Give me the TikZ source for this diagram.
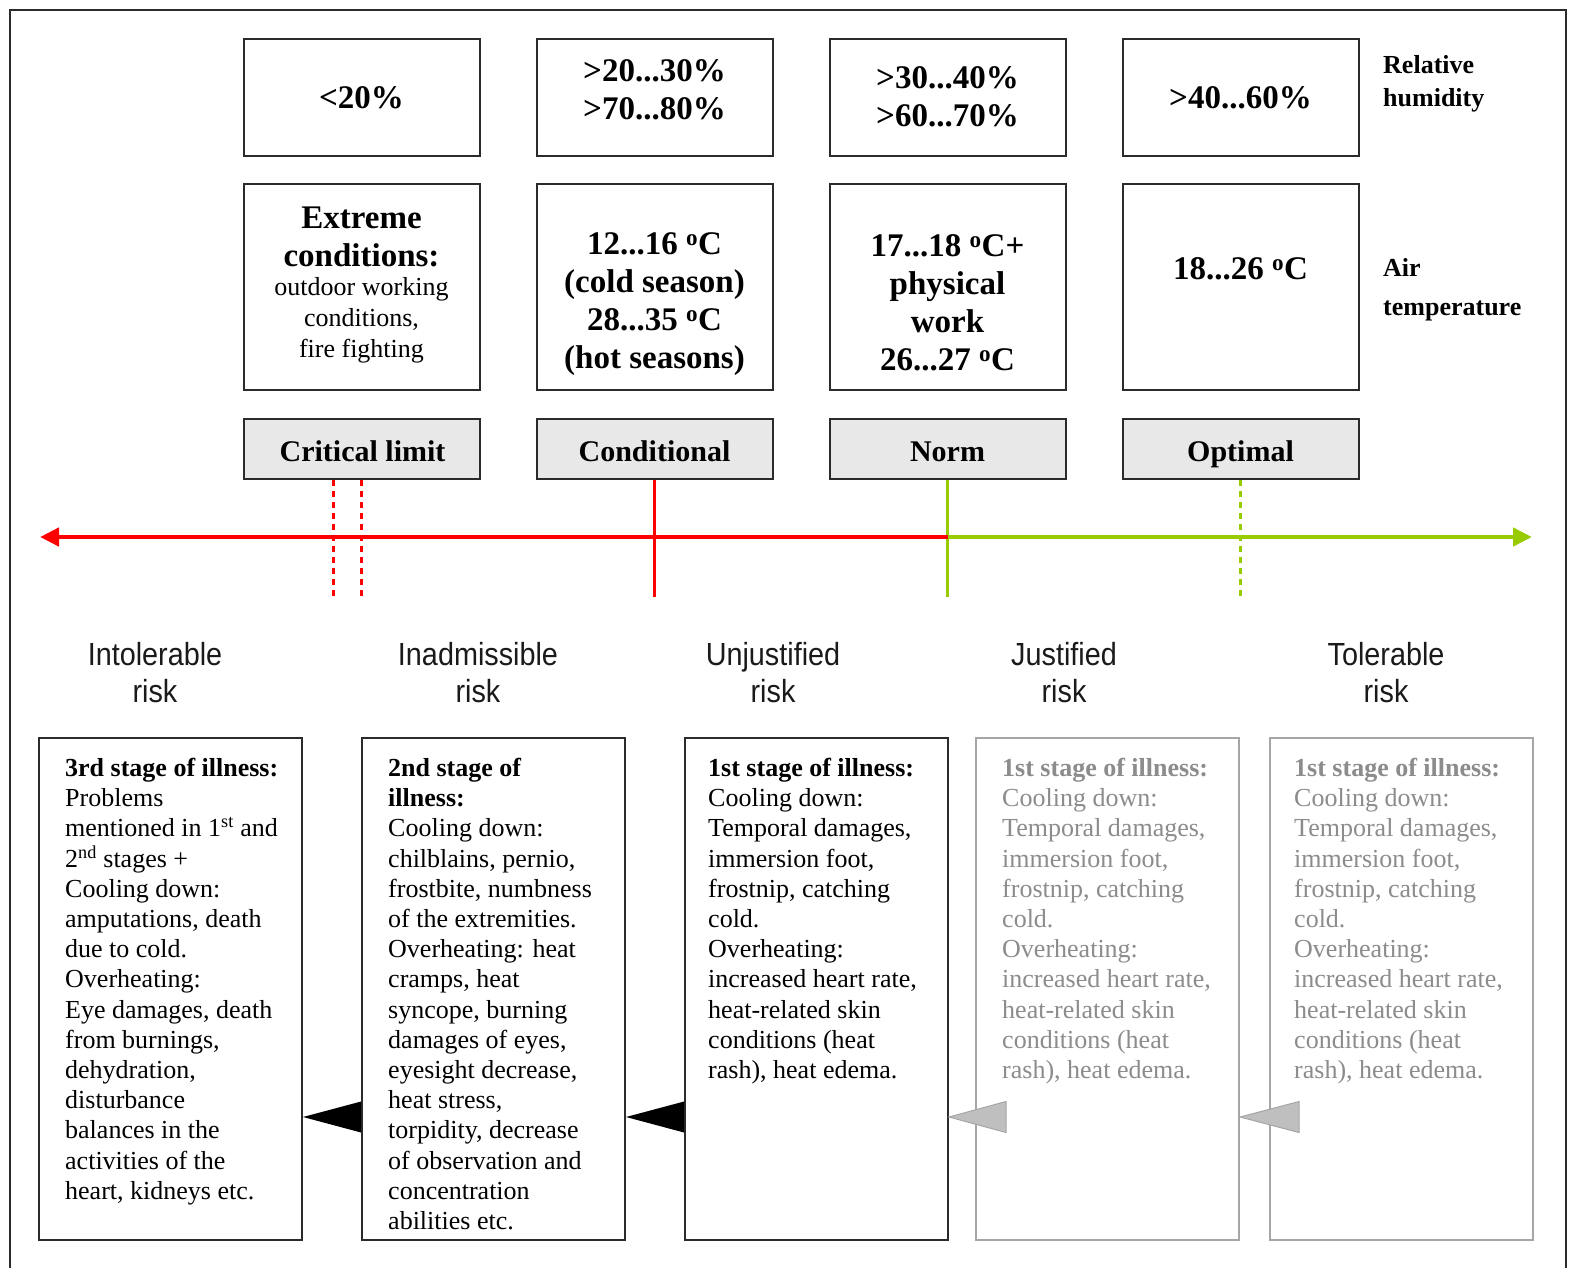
\documentclass[tikz,border=0pt]{standalone}
\usepackage{fontspec}
\setmainfont{Liberation Serif}
\newfontfamily\riskfont[FakeStretch=0.9]{Liberation Sans}
\usetikzlibrary{arrows.meta,calc}

\definecolor{axisred}{HTML}{FF0000}
\definecolor{axisgreen}{HTML}{99CC00}
\definecolor{catfill}{HTML}{E8E8E8}
\definecolor{frameline}{HTML}{2B2B2B}
\definecolor{fadeline}{HTML}{A6A6A6}
\definecolor{fadetext}{HTML}{8C8C8C}
\definecolor{fadetri}{HTML}{BFBFBF}
\definecolor{risktext}{HTML}{1A1A1A}

\begin{document}
\begin{tikzpicture}[x=1pt,y=-1pt,
  box/.style={draw=frameline, line width=2pt, inner sep=0pt, fill=white},
  humbox/.style={box, minimum width=236pt, minimum height=117pt},
  tempbox/.style={box, minimum width=236pt, minimum height=206pt},
  catbox/.style={box, fill=catfill, minimum width=236pt, minimum height=60pt},
  catlabel/.style={inner sep=0pt, text height=21pt, text depth=0pt,
    font=\bfseries\fontsize{30}{34}\selectfont},
  stagebox/.style={box, minimum width=263pt, minimum height=502pt},
  fadebox/.style={stagebox, draw=fadeline},
  bigtext/.style={inner sep=0pt, align=center, font=\bfseries\fontsize{33}{38}\selectfont},
  smalltext/.style={inner sep=0pt, align=center, font=\fontsize{26}{31}\selectfont},
  sidetext/.style={inner sep=0pt, align=left, anchor=west, font=\bfseries\fontsize{26}{33}\selectfont},
  risklabel/.style={inner sep=0pt, align=center, text=risktext, font=\riskfont\fontsize{32}{37}\selectfont},
  stagetext/.style={inner sep=0pt, align=left, anchor=north west, font=\fontsize{26}{30.2}\selectfont},
  solidtick/.style={line width=3pt},
  dottick/.style={line width=3pt, dash pattern=on 6pt off 5pt},
  axisline/.style={line width=4.5pt, -{Triangle[length=19pt,width=18pt]}}
]
\useasboundingbox (0,0) rectangle (1573,1268);

% outer frame (runs off the bottom of the page)
\draw[frameline, line width=2pt] (10,1280) -- (10,10) -- (1566,10) -- (1566,1280);

% relative humidity row
\node[humbox] (h1) at (361.5,97.5) {};
\node[humbox] (h2) at (654.5,97.5) {};
\node[humbox] (h3) at (947.5,97.5) {};
\node[humbox] (h4) at (1240.5,97.5) {};
\node[bigtext] (h1t) at (361.5,98) {<20\%};
\node[bigtext] (h2t) at (654.5,90) {>20...30\%\\>70...80\%};
\node[bigtext] (h3t) at (947.5,97) {>30...40\%\\>60...70\%};
\node[bigtext] (h4t) at (1240.5,98) {>40...60\%};
\node[sidetext] (rh) at (1383,84) {Relative\\humidity};

% air temperature row
\node[tempbox] (t1) at (361.5,287) {};
\node[tempbox] (t2) at (654.5,287) {};
\node[tempbox] (t3) at (947.5,287) {};
\node[tempbox] (t4) at (1240.5,287) {};
\node[bigtext] (t1a) at (361.5,237) {Extreme\\conditions:};
\node[smalltext] (t1b) at (361.5,320) {outdoor working\\conditions,\\fire fighting};
\node[bigtext] (t2t) at (654.5,304) {12...16 \textsuperscript{o}C\\(cold season)\\28...35 \textsuperscript{o}C\\(hot seasons)};
\node[bigtext] (t3t) at (947.5,303) {17...18 \textsuperscript{o}C+\\physical\\work\\26...27 \textsuperscript{o}C};
\node[bigtext] (t4t) at (1240.5,269) {18...26 \textsuperscript{o}C};
\node[sidetext, font=\bfseries\fontsize{26}{39}\selectfont] (at) at (1383,290) {Air\\temperature};

% category row
\node[catbox] (c1) at (361.5,449) {};
\node[catbox] (c2) at (654.5,449) {};
\node[catbox] (c3) at (947.5,449) {};
\node[catbox] (c4) at (1240.5,449) {};
\node[catlabel] (c1t) at (362.5,451) {Critical limit};
\node[catlabel] (c2t) at (654.5,451) {Conditional};
\node[catlabel] (c3t) at (947.5,451) {Norm};
\node[catlabel] (c4t) at (1240.5,451) {Optimal};

% markers dropping from the categories onto the axis
\draw[axisred, dottick] ([xshift=-28.5pt]c1.south) -- ++(0,117);
\draw[axisred, dottick] (c1.south) -- ++(0,117);
\draw[axisred, solidtick] (c2.south) -- ++(0,117);
\draw[axisgreen, solidtick] (c3.south) -- ++(0,117);
\draw[axisgreen, dottick] (c4.south) -- ++(0,117);

% risk axis
\coordinate (axL) at (40,537);
\coordinate (axR) at (1532,537);
\coordinate (axM) at (947.5,537);
\draw[axisred, axisline] (axM) -- (axL);
\draw[axisgreen, axisline] (axM) -- (axR);

% risk levels
\node[risklabel] (r1) at (155,673) {Intolerable\\risk};
\node[risklabel] (r2) at (478,673) {Inadmissible\\risk};
\node[risklabel] (r3) at (773,673) {Unjustified\\risk};
\node[risklabel] (r4) at (1064,673) {Justified\\risk};
\node[risklabel] (r5) at (1386,673) {Tolerable\\risk};

% stages of illness
\node[stagebox] (sA) at (170.5,989) {};
\node[stagebox] (sB) at (493.5,989) {};
\node[stagebox] (sC) at (816.5,989) {};
\node[fadebox] (sD) at (1107.5,989) {};
\node[fadebox] (sE) at (1401.5,989) {};

\node[stagetext] (sAt) at ([shift={(27,21)}]sA.north west) {\textbf{3rd stage of illness:}\\
Problems\\
mentioned in 1\textsuperscript{st} and\\
2\textsuperscript{nd} stages +\\
Cooling down:\\
amputations, death\\
due to cold.\\
Overheating:\\
Eye damages, death\\
from burnings,\\
dehydration,\\
disturbance\\
balances in the\\
activities of the\\
heart, kidneys etc.};

\node[stagetext] (sBt) at ([shift={(27,21)}]sB.north west) {\textbf{2nd stage of}\\
\textbf{illness:}\\
Cooling down:\\
chilblains, pernio,\\
frostbite, numbness\\
of the extremities.\\
Overheating: heat\\
cramps, heat\\
syncope, burning\\
damages of eyes,\\
eyesight decrease,\\
heat stress,\\
torpidity, decrease\\
of observation and\\
concentration\\
abilities etc.};

\node[stagetext] (sCt) at ([shift={(24,21)}]sC.north west) {\textbf{1st stage of illness:}\\
Cooling down:\\
Temporal damages,\\
immersion foot,\\
frostnip, catching\\
cold.\\
Overheating:\\
increased heart rate,\\
heat-related skin\\
conditions (heat\\
rash), heat edema.};

\node[stagetext, text=fadetext] (sDt) at ([shift={(27,21)}]sD.north west) {\textbf{1st stage of illness:}\\
Cooling down:\\
Temporal damages,\\
immersion foot,\\
frostnip, catching\\
cold.\\
Overheating:\\
increased heart rate,\\
heat-related skin\\
conditions (heat\\
rash), heat edema.};

\node[stagetext, text=fadetext] (sEt) at ([shift={(25,21)}]sE.north west) {\textbf{1st stage of illness:}\\
Cooling down:\\
Temporal damages,\\
immersion foot,\\
frostnip, catching\\
cold.\\
Overheating:\\
increased heart rate,\\
heat-related skin\\
conditions (heat\\
rash), heat edema.};

% pointers from one stage to the next
\coordinate (ty) at (0,1117);
\fill[black] (sA.east |- ty) -- ($(sB.west |- ty)+(0,-15.5)$) -- ($(sB.west |- ty)+(0,15.5)$) -- cycle;
\fill[black] (sB.east |- ty) -- ($(sC.west |- ty)+(0,-15.5)$) -- ($(sC.west |- ty)+(0,15.5)$) -- cycle;
\filldraw[fill=fadetri, draw=fadeline, line width=1pt] (sC.east |- ty) -- ($(sD.west |- ty)+(31,-15.5)$) -- ($(sD.west |- ty)+(31,15.5)$) -- cycle;
\filldraw[fill=fadetri, draw=fadeline, line width=1pt] (sD.east |- ty) -- ($(sE.west |- ty)+(30,-15.5)$) -- ($(sE.west |- ty)+(30,15.5)$) -- cycle;
\end{tikzpicture}
\end{document}
